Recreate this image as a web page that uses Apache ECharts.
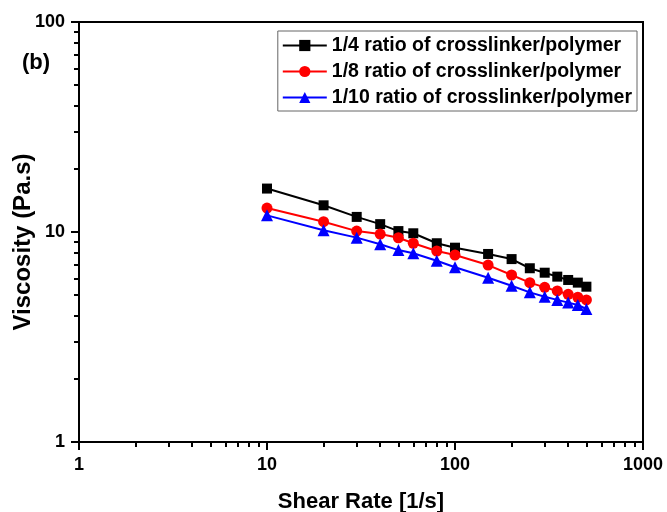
<!DOCTYPE html>
<html>
<head>
<meta charset="utf-8">
<script src="https://cdn.jsdelivr.net/npm/echarts@6/dist/echarts.min.js"></script>
<style>html,body{margin:0;padding:0;background:#fff;}#c{width:667px;height:512px;}</style>
</head>
<body>
<div id="c"></div>
<script>
var shearRate = [10, 20, 30, 40, 50, 60, 80, 100, 150, 200, 250, 300, 350, 400, 450, 500];
var ratio14 = [16.1, 13.4, 11.8, 10.9, 10.1, 9.86, 8.84, 8.42, 7.86, 7.43, 6.72, 6.40, 6.13, 5.91, 5.74, 5.49];
var ratio18 = [13.0, 11.2, 10.1, 9.78, 9.39, 8.84, 8.12, 7.77, 6.96, 6.24, 5.74, 5.45, 5.24, 5.05, 4.89, 4.75];
var ratio110 = [12.0, 10.2, 9.4, 8.74, 8.2, 7.92, 7.3, 6.79, 6.06, 5.55, 5.16, 4.92, 4.75, 4.61, 4.49, 4.30];
var seriesNames = ['1/4 ratio of crosslinker/polymer', '1/8 ratio of crosslinker/polymer', '1/10 ratio of crosslinker/polymer'];
var xTickLabels = [1, 10, 100, 1000];
var yTickLabels = [1, 10, 100];
var minorTickValuesX = [2,3,4,5,6,7,8,9,20,30,40,50,60,70,80,90,200,300,400,500,600,700,800,900];
var minorTickValuesY = [2,3,4,5,6,7,8,9,20,30,40,50,60,70,80,90];

function pairs(xs, ys){ return xs.map(function(x,i){ return [x, ys[i]]; }); }
var FONT = 'Liberation Sans, Arial, sans-serif';

var chart = echarts.init(document.getElementById('c'), null, {renderer:'canvas'});
chart.setOption({
  animation: false,
  backgroundColor: '#fff',
  grid: { left: 79, right: 24, top: 22, bottom: 70, show: true, borderColor: '#000', borderWidth: 2,
    containLabel: false, outerBoundsMode: 'none' },
  title: { text: '(b)', left: 17, top: 47, textStyle: { fontFamily: FONT, fontWeight: 'bold', fontSize: 22, color: '#000' } },
  legend: {
    orient: 'vertical', right: 30, top: 31,
    data: seriesNames,
    itemWidth: 44, itemHeight: 14, itemGap: 5,
    padding: [4, 5, 3, 4],
    borderColor: '#666', borderWidth: 1,
    textStyle: { fontFamily: FONT, fontWeight: 'bold', fontSize: 19.5, lineHeight: 21, color: '#000' }
  },
  xAxis: [{
    type: 'log', logBase: 10, min: 1, max: 1000,
    name: 'Shear Rate [1/s]', nameLocation: 'middle', nameGap: 49, nameMoveOverlap: false,
    nameTextStyle: { fontFamily: FONT, fontWeight: 'bold', fontSize: 22, color: '#000' },
    axisLine: { lineStyle: { color: '#000', width: 2 } },
    axisTick: { show: true, inside: false, length: 8, lineStyle: { color: '#000', width: 2 } },
    minorTick: { show: false },
    axisLabel: { margin: 14, fontFamily: FONT, fontWeight: 'bold', fontSize: 18, color: '#000',
      formatter: function(v){ return xTickLabels.indexOf(Math.round(v)) >= 0 ? String(Math.round(v)) : ''; } },
    splitLine: { show: false }
  }, {
    type: 'value', min: 0, max: 3, position: 'bottom',
    axisLine: { show: false },
    axisTick: { show: true, length: 5, lineStyle: { color: '#000', width: 2 },
      customValues: minorTickValuesX.map(function(v){ return Math.log10(v); }) },
    axisLabel: { show: false },
    splitLine: { show: false }
  }],
  yAxis: [{
    type: 'log', logBase: 10, min: 1, max: 100,
    name: 'Viscosity (Pa.s)', nameLocation: 'middle', nameGap: 44, nameRotate: 90, nameMoveOverlap: false,
    nameTextStyle: { fontFamily: FONT, fontWeight: 'bold', fontSize: 24, color: '#000', padding: [0, 20, 0, 0] },
    axisLine: { lineStyle: { color: '#000', width: 2 } },
    axisTick: { show: true, inside: false, length: 8, lineStyle: { color: '#000', width: 2 } },
    minorTick: { show: false },
    axisLabel: { margin: 14, fontFamily: FONT, fontWeight: 'bold', fontSize: 18, color: '#000',
      formatter: function(v){ return yTickLabels.indexOf(Math.round(v)) >= 0 ? String(Math.round(v)) : ''; } },
    splitLine: { show: false }
  }, {
    type: 'value', min: 0, max: 2, position: 'left',
    axisLine: { show: false },
    axisTick: { show: true, length: 5, lineStyle: { color: '#000', width: 2 },
      customValues: minorTickValuesY.map(function(v){ return Math.log10(v); }) },
    axisLabel: { show: false },
    splitLine: { show: false }
  }],
  series: [{
    name: seriesNames[0], type: 'line', xAxisIndex: 0, yAxisIndex: 0,
    data: pairs(shearRate, ratio14),
    symbol: 'rect', symbolSize: 10,
    lineStyle: { color: '#000', width: 2 }, itemStyle: { color: '#000' }
  }, {
    name: seriesNames[1], type: 'line', xAxisIndex: 0, yAxisIndex: 0,
    data: pairs(shearRate, ratio18),
    symbol: 'circle', symbolSize: 11,
    lineStyle: { color: '#ff0000', width: 2 }, itemStyle: { color: '#ff0000' }
  }, {
    name: seriesNames[2], type: 'line', xAxisIndex: 0, yAxisIndex: 0,
    data: pairs(shearRate, ratio110),
    symbol: 'triangle', symbolSize: 12,
    lineStyle: { color: '#0000ff', width: 2 }, itemStyle: { color: '#0000ff' }
  }]
});
</script>
</body>
</html>
